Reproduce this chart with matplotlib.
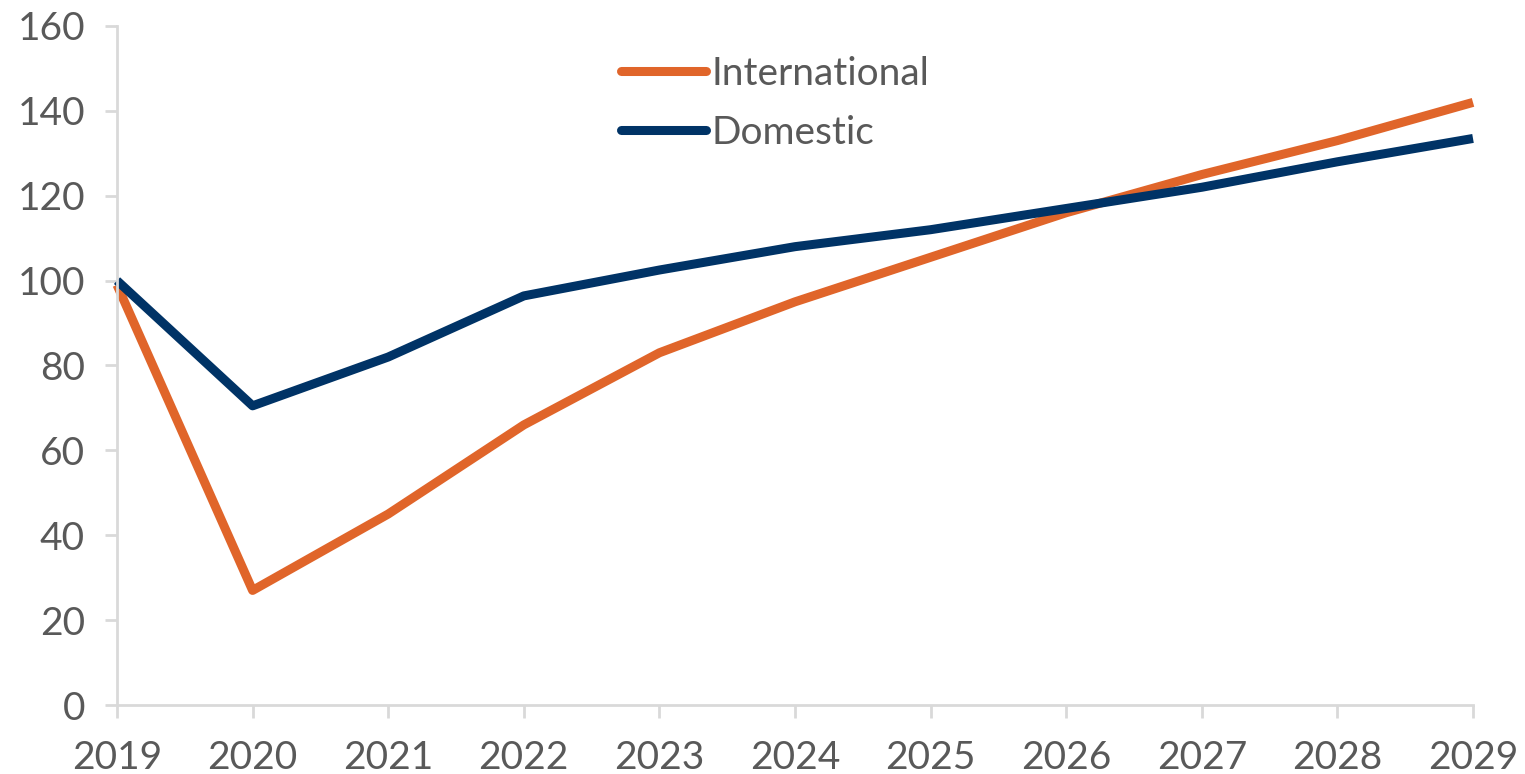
import matplotlib
matplotlib.use("Agg")
import matplotlib.pyplot as plt
from matplotlib.lines import Line2D

plt.rcParams["font.family"] = ["Lato", "DejaVu Sans"]

years = [2019, 2020, 2021, 2022, 2023, 2024, 2025, 2026, 2027, 2028, 2029]
international = [99, 27, 45, 66, 83, 95, 105.5, 116, 125, 133, 142]
domestic = [100, 70.5, 82, 96.4, 102.5, 108, 112, 117, 122, 128, 133.5]

orange = "#E0652A"
navy = "#003366"
axis_grey = "#D9D9D9"
text_grey = "#595959"

def main():
    fig = plt.figure(figsize=(15.25, 7.74), dpi=100)
    ax = fig.add_axes([117 / 1525, 1 - 705 / 774, (1473 - 117) / 1525, (705 - 26) / 774])

    ax.plot(years, international, color=orange, lw=6.5, solid_capstyle="butt",
        solid_joinstyle="round", clip_on=False)
    ax.plot(years, domestic, color=navy, lw=6.5, solid_capstyle="butt",
        solid_joinstyle="round", clip_on=False)

    ax.set_xlim(2019, 2029)
    ax.set_ylim(0, 160)
    ax.set_xticks(years)
    ax.set_yticks(range(0, 161, 20))

    for side in ["top", "right"]:
        ax.spines[side].set_visible(False)
    for side in ["left", "bottom"]:
        ax.spines[side].set_color(axis_grey)
        ax.spines[side].set_linewidth(2)
    ax.tick_params(axis="both", colors=axis_grey, width=2, length=9,
        labelcolor=text_grey, labelsize=28)
    ax.tick_params(axis="x", pad=16)
    ax.tick_params(axis="y", pad=14)

    # Legend with round-capped handles.
    handles = [
        Line2D([], [], color=orange, lw=6.5, solid_capstyle="round"),
        Line2D([], [], color=navy, lw=6.5, solid_capstyle="round"),
    ]
    ax.legend(handles, ["International", "Domestic"], loc="upper left",
        bbox_to_anchor=(605 / 1525, 1 - 40 / 774), bbox_transform=fig.transFigure,
        frameon=False, fontsize=28, labelcolor=text_grey, handlelength=2.2,
        handletextpad=0.15, labelspacing=0.6, borderaxespad=0)

    fig.savefig("out.png", dpi=100)

if __name__ == "__main__":
    main()
